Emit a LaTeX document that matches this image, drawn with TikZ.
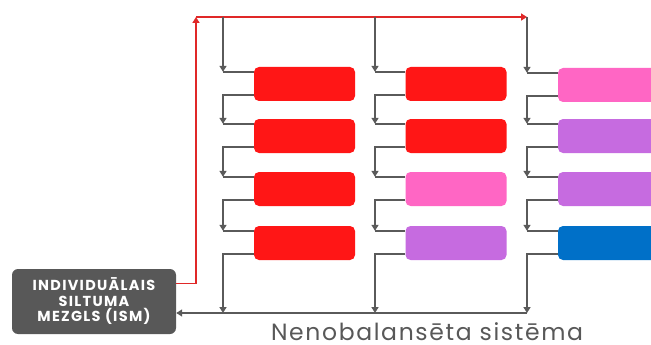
\documentclass[tikz,border=0pt]{standalone}
\usepackage{fontspec}
\setmainfont{Poppins}
\newfontfamily\ismfont[LetterSpace=9]{Poppins}
\newfontfamily\capfont[LetterSpace=7]{Poppins}
\usetikzlibrary{arrows.meta}
\definecolor{cRed}{HTML}{FF1616}
\definecolor{cPink}{HTML}{FF66C4}
\definecolor{cPurple}{HTML}{C66BE0}
\definecolor{cBlue}{HTML}{0070C8}
\definecolor{cDark}{HTML}{585858}
\definecolor{cLine}{HTML}{5A5A5A}
\definecolor{cRedLine}{HTML}{E02828}
\tikzset{
  unitbox/.style={draw=none, rounded corners=5pt, minimum width=101pt, minimum height=34pt, inner sep=0pt},
  pipe/.style={draw=cLine, line width=1.8pt},
  pipearr/.style={pipe, -{Triangle[width=7pt,length=6pt]}},
  redpipe/.style={draw=cRedLine, line width=1.8pt, -{Triangle[width=7pt,length=6pt]}},
  ismbox/.style={fill=cDark, rounded corners=6pt, minimum width=164pt, minimum height=65pt, inner sep=0pt,
    text=white, align=center, font=\ismfont\bfseries\fontsize{14.5}{15.5}\selectfont},
  captext/.style={text=cDark, font=\capfont\fontsize{23.5}{26}\selectfont, inner sep=0pt}
}
\begin{document}
\begin{tikzpicture}[x=1pt,y=-1pt]
\clip (0,0) rectangle (651,345);
\fill[white] (0,0) rectangle (651,345);

% boxes
\node[unitbox, fill=cRed] (b11) at (304.5,84) {};
\node[unitbox, fill=cRed] (b12) at (304.5,136) {};
\node[unitbox, fill=cRed] (b13) at (304.5,189) {};
\node[unitbox, fill=cRed] (b14) at (304.5,243) {};
\node[unitbox, fill=cRed] (b21) at (456,84) {};
\node[unitbox, fill=cRed] (b22) at (456,136) {};
\node[unitbox, fill=cPink] (b23) at (456,189) {};
\node[unitbox, fill=cPurple] (b24) at (456,243) {};
\node[unitbox, fill=cPink] (b31) at (608.5,85) {};
\node[unitbox, fill=cPurple] (b32) at (608.5,136) {};
\node[unitbox, fill=cPurple] (b33) at (608.5,189) {};
\node[unitbox, fill=cBlue] (b34) at (608.5,243) {};

\node[ismbox] (ism) at (94,301.5) {INDIVIDUĀLAIS\\SILTUMA\\MEZGLS (ISM)};
\node[captext, anchor=base] (cap) at (427,340) {Nenobalansēta sistēma};

% bus tops and returns
\coordinate (corner) at (196,17);
\coordinate (t1) at (223,17);
\coordinate (t2) at (375,17);
\coordinate (t3) at (527,17);
\coordinate (r1) at (223,313);
\coordinate (r2) at (375,313);
\coordinate (r3) at (527,313);

% red supply
\draw[redpipe] ([yshift=18pt]ism.east) -| (corner);
\draw[redpipe] (corner) -- (t3);

% return line
\draw[pipearr] (r3) -- (r3 -| ism.east);

\foreach \c/\t/\r in {1/t1/r1,2/t2/r2,3/t3/r3}{
  \foreach \k in {1,2,3,4}{
    \coordinate (e\c\k) at ([yshift=-5pt]b\c\k.north west);
    \coordinate (x\c\k) at ([yshift=6pt]b\c\k.south west);
    \draw[pipe] (e\c\k -| \t) -- (e\c\k);
  }
  \draw[pipearr] (\t) -- (e\c1 -| \t);
  \draw[pipearr] (x\c1) -| (e\c2 -| \t);
  \draw[pipearr] (x\c2) -| (e\c3 -| \t);
  \draw[pipearr] (x\c3) -| (e\c4 -| \t);
  \draw[pipearr] (x\c4) -| (\r);
}
\end{tikzpicture}
\end{document}
